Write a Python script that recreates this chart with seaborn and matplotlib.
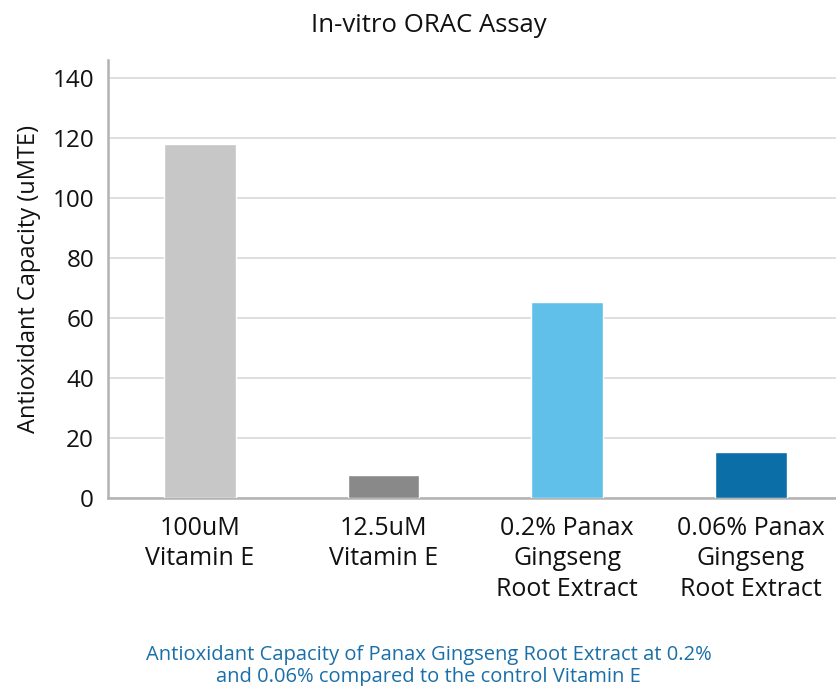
import matplotlib
matplotlib.use('Agg')
import matplotlib.pyplot as plt
import seaborn as sns
import pandas as pd

categories = ['100uM\nVitamin E', '12.5uM\nVitamin E',
              '0.2% Panax\nGingseng\nRoot Extract', '0.06% Panax\nGingseng\nRoot Extract']
values = [118, 7.7, 65.5, 15.4]
colors = ['#c8c7c8', '#898989', '#61c0ea', '#0b6ea6']
yticks = [0, 20, 40, 60, 80, 100, 120, 140]

df = pd.DataFrame({'cat': categories, 'val': values})

sns.set_style('white')
plt.rcParams['font.family'] = ['Open Sans', 'DejaVu Sans']

fig = plt.figure(figsize=(8.37, 6.86), dpi=100)
ax = fig.add_axes([0.129, 0.274, 0.878, 0.638])

sns.barplot(data=df, x='cat', y='val', hue='cat', palette=colors, saturation=1,
            width=0.39, legend=False, ax=ax, zorder=3)

ax.set_ylim(0, 146)
ax.set_xlim(-0.5, 3.5)
ax.set_yticks(yticks)
ax.yaxis.grid(True, color='#d9d9d9', linewidth=1.2, zorder=0)
ax.set_axisbelow(True)

for s in ['top', 'right']:
    ax.spines[s].set_visible(False)
for s in ['left', 'bottom']:
    ax.spines[s].set_color('#b3b3b3')
    ax.spines[s].set_linewidth(1.8)

ax.set_xticks([0.5, 1.5, 2.5], minor=True)
ax.tick_params(axis='x', which='minor', direction='in', length=15, width=1.8, color='#b3b3b3')
ax.tick_params(axis='x', which='major', length=0, pad=13, labelsize=18, labelcolor='#111111')
ax.tick_params(axis='y', length=0, pad=10, labelsize=17.5, labelcolor='#111111')
for t in ax.get_xticklabels():
    t.set_linespacing(1.28)

ax.set_xlabel('')
ax.set_ylabel('Antioxidant Capacity (uMTE)', fontsize=17, labelpad=8, color='#111111')

fig.text(0.512, 0.963, 'In-vitro ORAC Assay', ha='center', va='center', fontsize=18.5, color='#111111')
fig.text(0.512, 0.029, 'Antioxidant Capacity of Panax Gingseng Root Extract at 0.2%\nand 0.06% compared to the control Vitamin E',
         ha='center', va='center', fontsize=14.5, color='#1a6fa8', linespacing=1.1)

fig.savefig('out.png', dpi=100)
